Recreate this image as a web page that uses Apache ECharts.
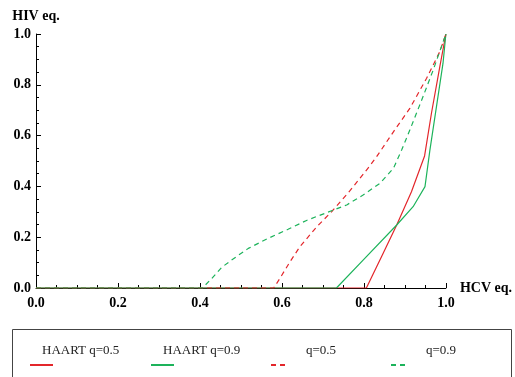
<!DOCTYPE html>
<html>
<head>
<meta charset="utf-8">
<script src="https://cdn.jsdelivr.net/npm/echarts@6/dist/echarts.min.js"></script>
<style>html,body{margin:0;padding:0;background:#fff;}#c{width:515px;height:377px;}</style>
</head>
<body>
<div id="c"></div>
<script>
var xTicks = [0, 0.2, 0.4, 0.6, 0.8, 1.0];
var seriesNames = ['HAART q=0.5', 'HAART q=0.9', 'q=0.5', 'q=0.9'];
var haartQ05 = [[0,0],[0.806,0],[0.847,0.137],[0.880,0.248],[0.916,0.379],[0.948,0.52],[0.965,0.69],[0.985,0.87],[1,1]];
var haartQ09 = [[0,0],[0.733,0],[0.798,0.110],[0.880,0.248],[0.920,0.320],[0.949,0.399],[0.961,0.543],[0.977,0.714],[0.993,0.885],[1,1]];
var q05 = [[0,0],[0.58,0],[0.595,0.038],[0.620,0.104],[0.644,0.163],[0.685,0.241],[0.721,0.300],[0.766,0.383],[0.813,0.478],[0.831,0.517],[0.872,0.615],[0.912,0.707],[0.953,0.826],[0.985,0.930],[1,1]];
var q09 = [[0,0],[0.406,0],[0.429,0.038],[0.453,0.081],[0.477,0.110],[0.518,0.156],[0.567,0.196],[0.615,0.231],[0.660,0.266],[0.721,0.304],[0.758,0.327],[0.798,0.366],[0.839,0.412],[0.872,0.471],[0.892,0.543],[0.912,0.622],[0.941,0.740],[0.969,0.858],[1,1]];

var RED = '#e3262b', GREEN = '#1db35b';
var axisFont = {fontFamily: 'Liberation Serif', fontWeight: 'bold', fontSize: 14, color: '#000'};
function legendAt(name, left, itemWidth, padLeft) {
  return {
    data: [name], left: left, top: 337, padding: 0,
    itemWidth: itemWidth, itemHeight: 14,
    itemStyle: {color: 'rgba(0,0,0,0)', borderWidth: 0, opacity: 0},
    formatter: function (n) { return n + '\n '; },
    textStyle: {fontFamily: 'Liberation Serif', fontSize: 13, color: '#222', lineHeight: 28, padding: [0, 0, 0, padLeft]},
    selectedMode: false
  };
}
var chart = echarts.init(document.getElementById('c'), null, {renderer: 'canvas'});
chart.setOption({
  animation: false,
  backgroundColor: '#fff',
  grid: {left: 36, right: 68, top: 34, bottom: 89, containLabel: false},
  xAxis: {
    type: 'value', min: 0, max: 1, interval: 0.2,
    name: 'HCV eq.', nameLocation: 'end', nameGap: 14,
    nameTextStyle: Object.assign({}, axisFont, {align: 'left', verticalAlign: 'middle'}),
    axisLine: {lineStyle: {color: '#000', width: 1}},
    axisTick: {inside: true, length: 5, lineStyle: {color: '#000'}},
    minorTick: {show: true, splitNumber: 4, length: 3, lineStyle: {color: '#000'}},
    axisLabel: Object.assign({}, axisFont, {margin: 8, formatter: function (v) { return v.toFixed(1); }}),
    splitLine: {show: false}
  },
  yAxis: {
    type: 'value', min: 0, max: 1, interval: 0.2,
    name: 'HIV eq.', nameLocation: 'end', nameGap: 11,
    nameTextStyle: Object.assign({}, axisFont, {align: 'center'}),
    axisLine: {show: true, lineStyle: {color: '#000', width: 1}},
    axisTick: {show: true, inside: true, length: 5, lineStyle: {color: '#000'}},
    minorTick: {show: true, splitNumber: 4, length: 3, lineStyle: {color: '#000'}},
    axisLabel: Object.assign({}, axisFont, {margin: 5, formatter: function (v) { return v.toFixed(1); }}),
    splitLine: {show: false}
  },
  legend: [
    legendAt(seriesNames[0], 29, 23, -16),
    legendAt(seriesNames[1], 150, 23, -16),
    legendAt(seriesNames[2], 270, 18, 12),
    legendAt(seriesNames[3], 390, 18, 12)
  ],
  graphic: [{
    type: 'rect', silent: true,
    shape: {x: 12.5, y: 329.5, width: 499, height: 60},
    style: {fill: 'none', stroke: '#444', lineWidth: 1}
  }],
  series: [
    {name: seriesNames[0], type: 'line', data: haartQ05, symbol: 'none', color: RED, lineStyle: {color: RED, width: 1.2}, z: 3},
    {name: seriesNames[1], type: 'line', data: haartQ09, symbol: 'none', color: GREEN, lineStyle: {color: GREEN, width: 1.2}, z: 3},
    {name: seriesNames[2], type: 'line', data: q05, symbol: 'none', color: RED, lineStyle: {color: RED, width: 1.2, type: [5, 4]}, z: 3},
    {name: seriesNames[3], type: 'line', data: q09, symbol: 'none', color: GREEN, lineStyle: {color: GREEN, width: 1.2, type: [5, 4]}, z: 3}
  ]
});
</script>
</body>
</html>
